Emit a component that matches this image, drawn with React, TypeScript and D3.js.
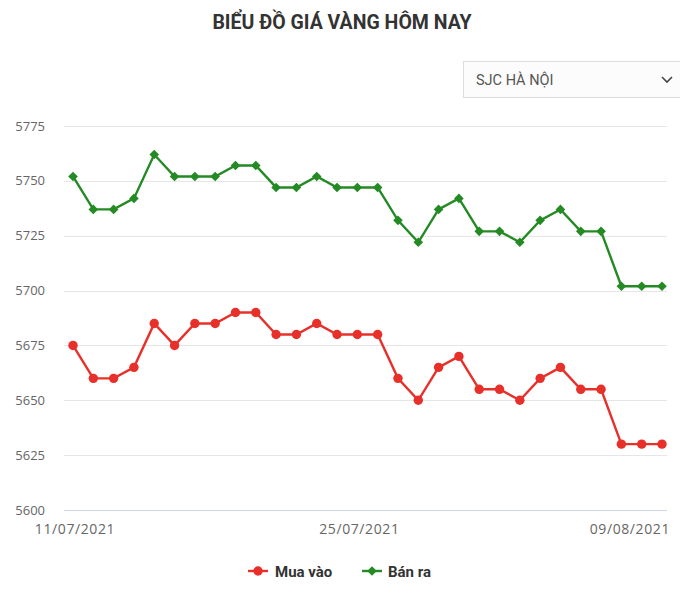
import { useEffect, useRef } from 'react';
import * as d3 from 'd3';

const dates = [
  '11/07/2021', '12/07/2021', '13/07/2021', '14/07/2021', '15/07/2021', '16/07/2021',
  '17/07/2021', '18/07/2021', '19/07/2021', '20/07/2021', '21/07/2021', '22/07/2021',
  '23/07/2021', '24/07/2021', '25/07/2021', '26/07/2021', '27/07/2021', '28/07/2021',
  '29/07/2021', '30/07/2021', '31/07/2021', '01/08/2021', '02/08/2021', '03/08/2021',
  '04/08/2021', '05/08/2021', '06/08/2021', '07/08/2021', '08/08/2021', '09/08/2021',
];
const muaVao = [
  5675, 5660, 5660, 5665, 5685, 5675, 5685, 5685, 5690, 5690,
  5680, 5680, 5685, 5680, 5680, 5680, 5660, 5650, 5665, 5670,
  5655, 5655, 5650, 5660, 5665, 5655, 5655, 5630, 5630, 5630,
];
const banRa = [
  5752, 5737, 5737, 5742, 5762, 5752, 5752, 5752, 5757, 5757,
  5747, 5747, 5752, 5747, 5747, 5747, 5732, 5722, 5737, 5742,
  5727, 5727, 5722, 5732, 5737, 5727, 5727, 5702, 5702, 5702,
];
const yTicks = [5600, 5625, 5650, 5675, 5700, 5725, 5750, 5775];
const xTickLabels = ['11/07/2021', '25/07/2021', '09/08/2021'];

const RED = '#e8302a';
const GREEN = '#248a24';

export default function App() {
  const svgRef = useRef<SVGSVGElement | null>(null);

  useEffect(() => {
    if (!svgRef.current) return;
    const svg = d3.select(svgRef.current);
    svg.selectAll('*').remove();

    const width = 680;
    const height = 595;
    const left = 64, right = 667, top = 126, bottom = 510;

    const x = d3.scalePoint<string>().domain(dates).range([73, 662]);
    const y = d3.scaleLinear().domain([5600, 5775]).range([bottom, top]);

    svg.append('rect').attr('width', width).attr('height', height).attr('fill', '#fff');

    // title
    svg.append('text')
      .attr('x', 342).attr('y', 29)
      .attr('text-anchor', 'middle')
      .attr('font-family', 'Roboto, sans-serif')
      .attr('font-weight', 'bold')
      .attr('font-size', 19.5)
      .attr('fill', '#333')
      .text('BIỂU ĐỒ GIÁ VÀNG HÔM NAY');

    // dropdown
    svg.append('rect')
      .attr('x', 463.5).attr('y', 61.5).attr('width', 230).attr('height', 36)
      .attr('fill', '#fcfcfc').attr('stroke', '#dcdcdc');
    svg.append('text')
      .attr('x', 476).attr('y', 85)
      .attr('font-family', 'Roboto, sans-serif')
      .attr('font-size', 14.5)
      .attr('fill', '#555')
      .text('SJC HÀ NỘI');
    svg.append('path')
      .attr('d', 'M662,77 L667,82 L672,77')
      .attr('fill', 'none').attr('stroke', '#444').attr('stroke-width', 1.6);

    // grid
    svg.append('g').selectAll('line')
      .data(yTicks.filter((t) => t !== 5600))
      .join('line')
      .attr('x1', left).attr('x2', right)
      .attr('y1', (d) => Math.round(y(d)) + 0.5).attr('y2', (d) => Math.round(y(d)) + 0.5)
      .attr('stroke', '#e6e6e6');
    svg.append('line')
      .attr('x1', left).attr('x2', right)
      .attr('y1', Math.round(y(5600)) + 0.5).attr('y2', Math.round(y(5600)) + 0.5)
      .attr('stroke', '#ccd6eb');

    // y labels
    svg.append('g').selectAll('text')
      .data(yTicks)
      .join('text')
      .attr('x', 45).attr('y', (d) => y(d) + 4.5)
      .attr('text-anchor', 'end')
      .attr('font-family', '"Open Sans", sans-serif')
      .attr('font-size', 13)
      .attr('fill', '#666')
      .text((d) => d);

    // x labels
    svg.append('g').selectAll('text')
      .data(xTickLabels)
      .join('text')
      .attr('x', (d, i) => (i === 2 ? 670 : (x(d) as number) + 2))
      .attr('y', 534)
      .attr('text-anchor', (d, i) => (i === 2 ? 'end' : 'middle'))
      .attr('font-family', '"Open Sans", sans-serif')
      .attr('font-size', 14)
      .attr('letter-spacing', 0.6)
      .attr('fill', '#666')
      .text((d) => d);

    const line = d3.line<number>()
      .x((d, i) => x(dates[i]) as number)
      .y((d) => y(d));

    const diamond = (cx: number, cy: number, r: number) =>
      `M${cx},${cy - r}L${cx + r},${cy}L${cx},${cy + r}L${cx - r},${cy}Z`;

    // green series
    svg.append('path')
      .datum(banRa)
      .attr('d', line)
      .attr('fill', 'none').attr('stroke', GREEN).attr('stroke-width', 2.4);
    svg.append('g').selectAll('path')
      .data(banRa)
      .join('path')
      .attr('d', (d, i) => diamond(x(dates[i]) as number, y(d), 4.8))
      .attr('fill', GREEN);

    // red series
    svg.append('path')
      .datum(muaVao)
      .attr('d', line)
      .attr('fill', 'none').attr('stroke', RED).attr('stroke-width', 2.4);
    svg.append('g').selectAll('circle')
      .data(muaVao)
      .join('circle')
      .attr('cx', (d, i) => x(dates[i]) as number)
      .attr('cy', (d) => y(d))
      .attr('r', 4.7)
      .attr('fill', RED);

    // legend
    const lg = svg.append('g').attr('font-family', 'Roboto, sans-serif')
      .attr('font-weight', 'bold').attr('font-size', 15).attr('fill', '#333');
    lg.append('line').attr('x1', 248).attr('x2', 268).attr('y1', 571).attr('y2', 571)
      .attr('stroke', RED).attr('stroke-width', 2.4);
    lg.append('circle').attr('cx', 258).attr('cy', 571).attr('r', 4.7).attr('fill', RED);
    lg.append('text').attr('x', 275).attr('y', 576.5).text('Mua vào');
    lg.append('line').attr('x1', 362).attr('x2', 382).attr('y1', 571).attr('y2', 571)
      .attr('stroke', GREEN).attr('stroke-width', 2.4);
    lg.append('path').attr('d', diamond(372, 571, 4.8)).attr('fill', GREEN);
    lg.append('text').attr('x', 388).attr('y', 576.5).text('Bán ra');
  }, []);

  return (
    <svg
      ref={svgRef}
      width={680}
      height={595}
      style={{ position: 'absolute', left: 0, top: 0, display: 'block' }}
    />
  );
}
